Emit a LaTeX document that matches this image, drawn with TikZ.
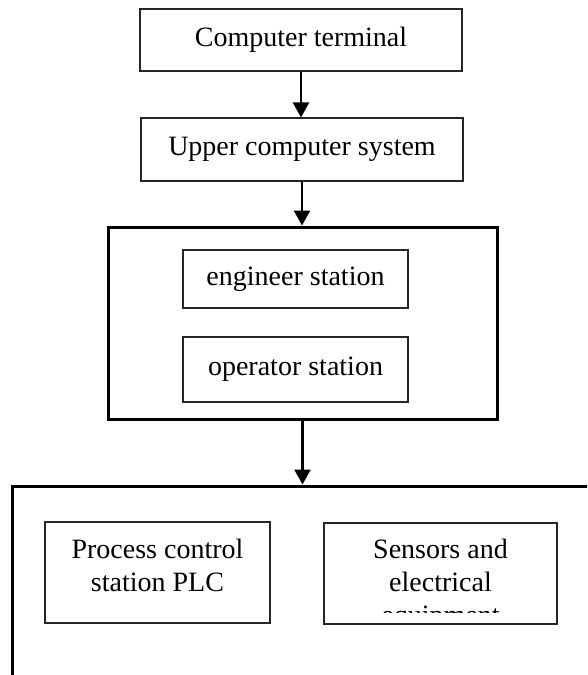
\documentclass[tikz,border=0pt]{standalone}
\usepackage{fontspec}
\setmainfont{Liberation Serif}
\usetikzlibrary{arrows.meta}
\begin{document}
\begin{tikzpicture}[x=1pt,y=-1pt,
  thinbox/.style={draw=black!85, line width=1.1pt, rectangle, inner sep=0pt,
    font=\fontsize{28}{33}\selectfont, text height=19pt, text depth=6.2pt},
  thickbox/.style={draw=black, line width=3pt, rectangle, inner sep=0pt},
  lbl/.style={font=\fontsize{28}{33}\selectfont, align=center, inner sep=0pt, anchor=base},
  flow/.style={draw=black, line width=2.4pt, -{Triangle[length=15pt,width=16pt]}}]
\useasboundingbox (0,0) rectangle (587,675);
\clip (0,0) rectangle (587,675);
\fill[white] (0,0) rectangle (587,675);

% top boxes
\node[thinbox, minimum width=322pt, minimum height=62pt] (term) at (301,40) {Computer terminal};
\node[thinbox, minimum width=322pt, minimum height=63pt] (upper) at (302,149.5) {Upper computer system};

% control group
\node[thickbox, minimum width=389pt, minimum height=192pt] (ctrl) at (302.5,323) {};
\node[thinbox, minimum width=225pt, minimum height=58pt] (eng) at (295.5,279) {engineer station};
\node[thinbox, minimum width=225pt, minimum height=65pt] (op) at (295.5,369.5) {operator station};

% field group
\node[thickbox, minimum width=628pt, minimum height=274pt] (field) at (326,623) {};
\node[thinbox, minimum width=225pt, minimum height=101pt] (plc) at (157.5,572.5) {};
\node[lbl] (plct) at (157.5,591) {Process control\\station PLC};
\node[thinbox, minimum width=233pt, minimum height=101pt] (sen) at (440.5,573.5) {};
\begin{scope}
  \clip (324,523) rectangle (557,612.5);
  \node[lbl] (sent) at (440.5,624) {Sensors and\\electrical\\equipment};
\end{scope}

% connectors
\draw[flow] (term.south) -- (term.south |- upper.north);
\draw[flow] (upper.south) -- (upper.south |- ctrl.north);
\draw[flow] (ctrl.south) -- (ctrl.south |- field.north);
\end{tikzpicture}
\end{document}
